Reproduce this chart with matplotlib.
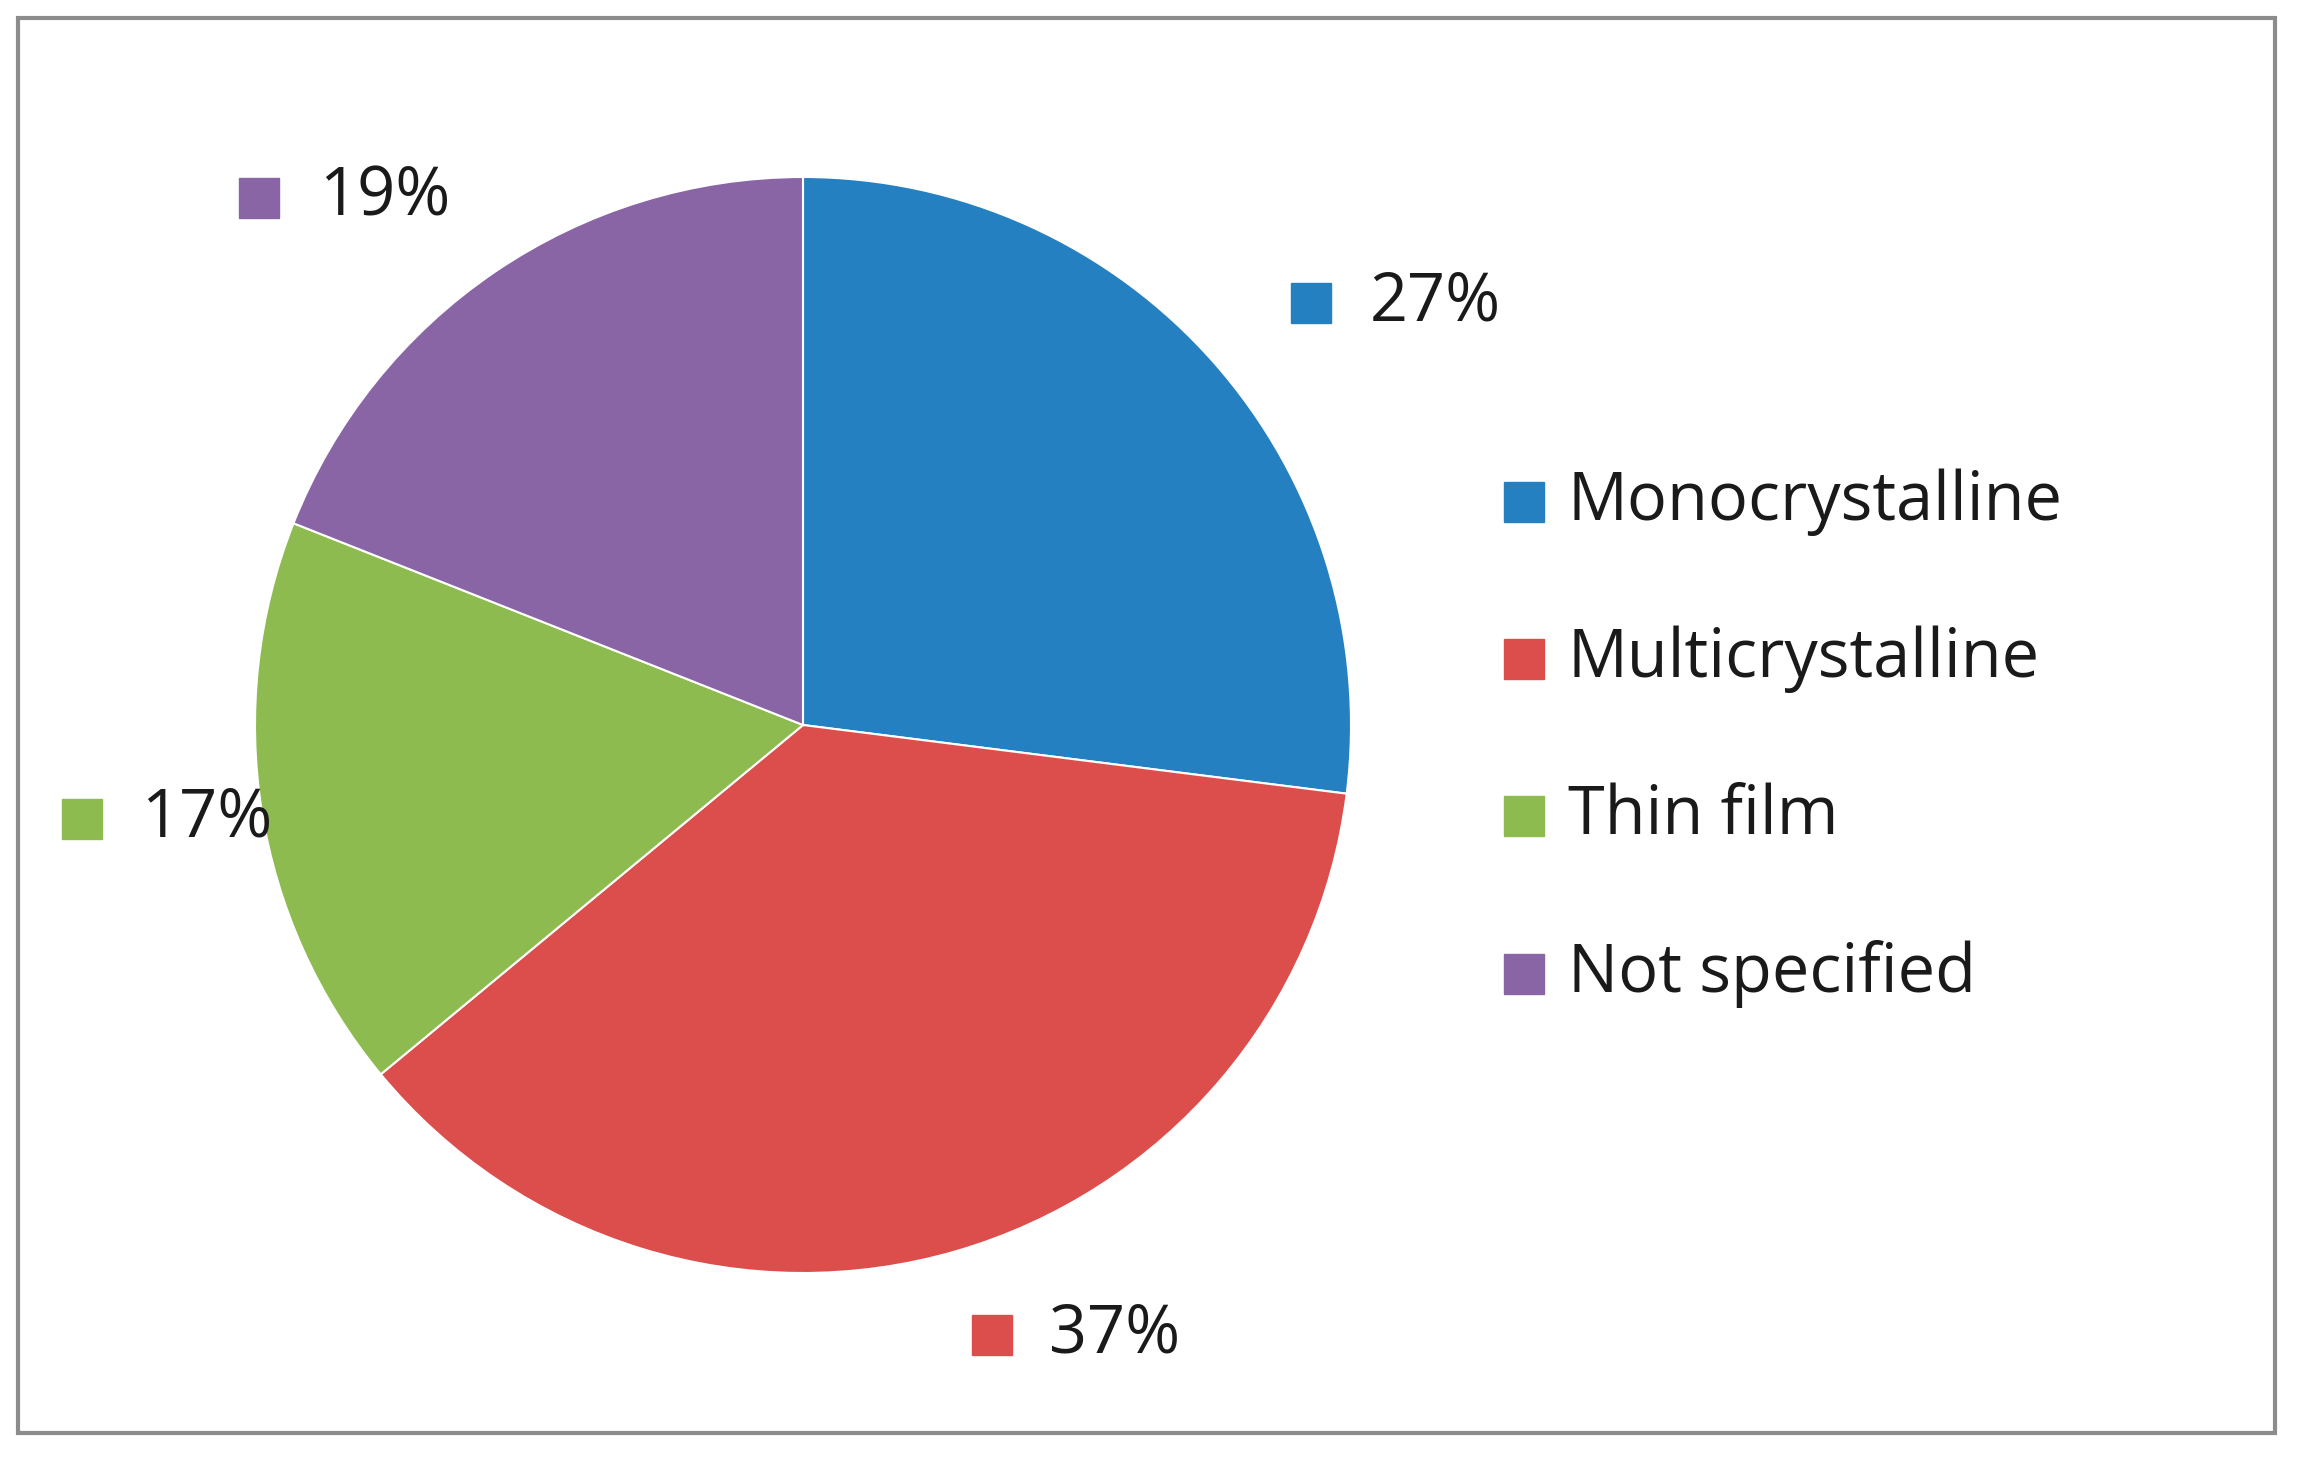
import matplotlib
matplotlib.use("Agg")
import matplotlib.pyplot as plt
from matplotlib.patches import Rectangle

categories = ["Monocrystalline", "Multicrystalline", "Thin film", "Not specified"]
values = [27, 37, 17, 19]
colors = ["#2480C1", "#DC4E4B", "#8DBB4F", "#8A65A5"]

W, H = 2297, 1459
fig = plt.figure(figsize=(W/100, H/100), dpi=100)
ax = fig.add_axes([0, 0, 1, 1])
ax.set_xlim(0, W); ax.set_ylim(0, H); ax.set_aspect('equal'); ax.axis('off')

def Y(y): return H - y

ax.add_patch(Rectangle((18, Y(1433)), 2257, 1415, fill=False, ec="#8c8c8c", lw=3))

ax.pie(values, colors=colors, startangle=90, counterclock=False,
       center=(803, Y(725)), radius=548, wedgeprops=dict(ec="white", lw=1.5),
       frame=True)
ax.set_xlim(0, W); ax.set_ylim(0, H); ax.axis('off')

font = "Open Sans"
sq = 40
# data labels: (square center x, y, text x)
label_pos = [(1311, 303, 1370), (992, 1335, 1049), (82, 819, 141), (259, 198, 319)]
for (sx, sy, tx), v, c in zip(label_pos, values, colors):
    ax.add_patch(Rectangle((sx - sq/2, Y(sy) - sq/2), sq, sq, color=c))
    ax.text(tx, Y(sy), f"{v}%", fontsize=48, family=font, va='center', ha='left', color="#1a1a1a")

leg_y = [502, 659, 816, 974]
for cat, c, ly in zip(categories, colors, leg_y):
    ax.add_patch(Rectangle((1524 - sq/2, Y(ly) - sq/2), sq, sq, color=c))
    ax.text(1568, Y(ly), cat, fontsize=48, family=font, va='center', ha='left', color="#1a1a1a")

fig.savefig("out.png", dpi=100, facecolor="white")
